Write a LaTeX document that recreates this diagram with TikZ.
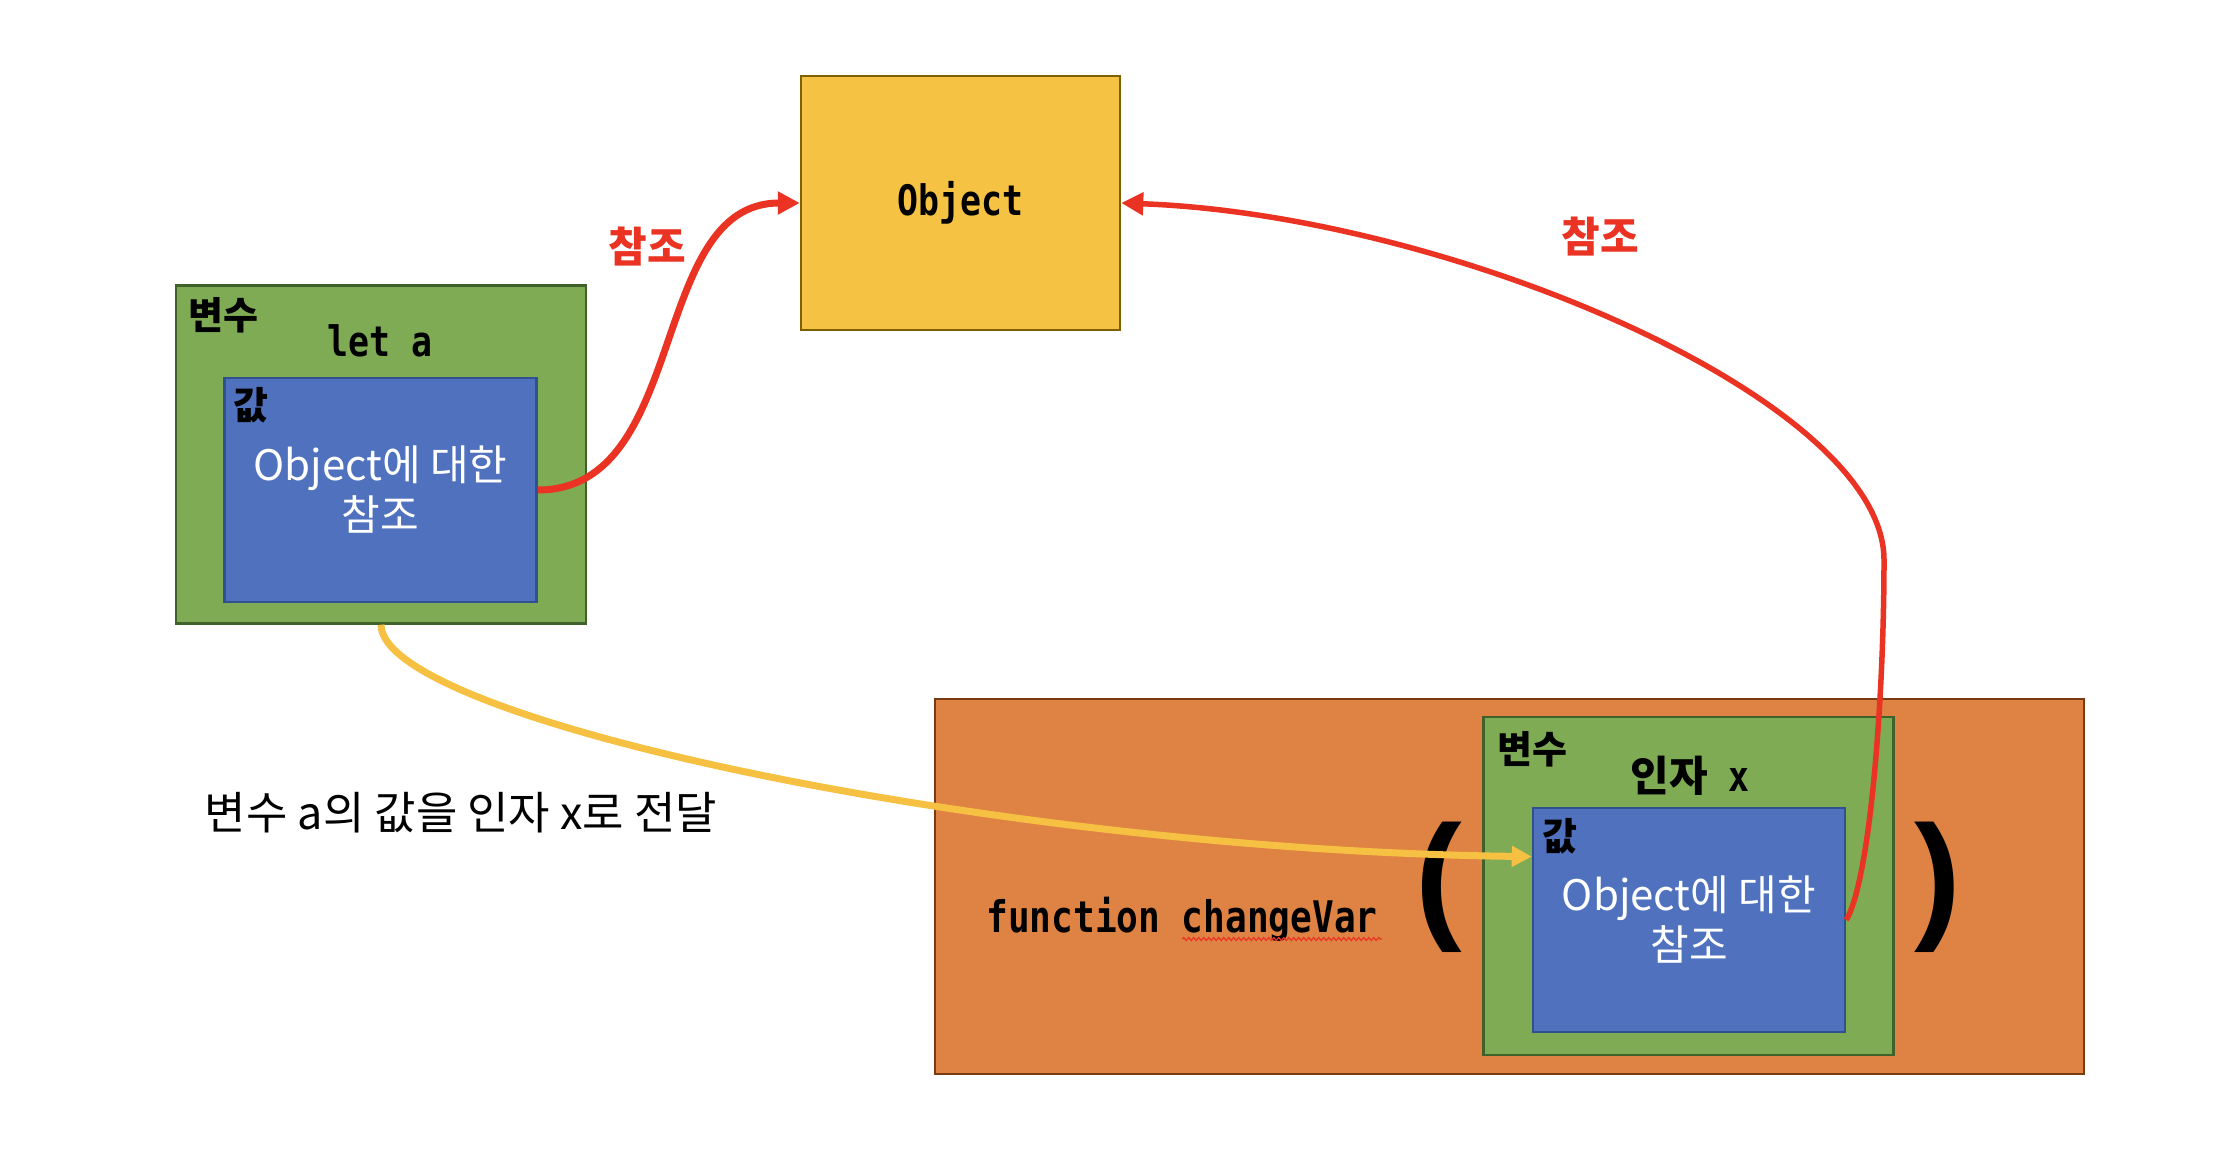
\documentclass[tikz,border=0pt]{standalone}
\usepackage{fontspec}
\setmainfont{Noto Sans CJK KR}
\newfontfamily\codefont[FakeStretch=0.83]{DejaVu Sans Mono}
\newfontfamily\parenfont{Liberation Sans}
\usepackage{xcolor}
\usepackage{tikz}
\usetikzlibrary{arrows.meta}
\usetikzlibrary{calc}
\usetikzlibrary{decorations.pathmorphing}
\definecolor{vargreen}{HTML}{7FAB55}
\definecolor{vargreenline}{HTML}{41612B}
\definecolor{valblue}{HTML}{4F71BE}
\definecolor{valblueline}{HTML}{2F528F}
\definecolor{objyellow}{HTML}{F5C243}
\definecolor{objyellowline}{HTML}{7F6000}
\definecolor{fnorange}{HTML}{DF8344}
\definecolor{fnorangeline}{HTML}{7A3B12}
\definecolor{refred}{HTML}{EA3323}
\definecolor{passyellow}{HTML}{F6C142}
\tikzset{plainbox/.style={rectangle, draw, line width=2.5pt, inner sep=0pt},
         varbox/.style={plainbox, draw=vargreenline, fill=vargreen,
                        minimum width=410pt, minimum height=338pt},
         valbox/.style={plainbox, draw=valblueline, fill=valblue,
                        minimum width=312pt, minimum height=224pt},
         tagtext/.style={inner sep=0pt, font=\fontsize{38}{42}\selectfont\bfseries},
         codetext/.style={inner sep=0pt, font=\fontsize{42}{50}\selectfont\codefont\bfseries},
         argtext/.style={inner sep=0pt, font=\fontsize{42}{50}\selectfont\bfseries},
         valtext/.style={inner sep=0pt, align=center, text=white,
                         font=\fontsize{42}{50}\selectfont},
         reflabel/.style={inner sep=0pt, text=refred, font=\fontsize{42}{50}\selectfont\bfseries},
         parentext/.style={inner sep=0pt, font=\fontsize{140}{140}\selectfont\parenfont\bfseries},
         refarrow/.style={draw=refred, line width=6pt, -{Triangle[length=22pt,width=22pt]}},
         passarrow/.style={draw=passyellow, line width=7pt, -{Triangle[length=20pt,width=20pt]}}}
\begin{document}
\begin{tikzpicture}[x=1pt,y=-1pt]
\useasboundingbox (0,0) rectangle (2216,1172);
% function changeVar ( ... )
\node[plainbox, draw=fnorangeline, fill=fnorange, minimum width=1149pt, minimum height=375pt] (fn) at (1509.5,886.5) {};
\node[codetext, font=\fontsize{43.5}{50}\selectfont\codefont\bfseries, anchor=base] (fnname) at (1182,932) {function changeVar};
\draw[refred, line width=1.2pt, decorate, decoration={snake, amplitude=1.5pt, segment length=5pt}]
  ($(fnname.base west)+(196,7)$) -- ($(fnname.base east)+(4,7)$);
\node[parentext] (lparen) at (1439,887) {(};
\node[parentext] (rparen) at (1938,887) {)};
\node[varbox] (var2) at (1688.5,886) {};
\node[valbox] (val2) at (1689,920) {};
\node[tagtext, anchor=west] (var2tag) at (1497,749.5) {변수};
\node[argtext] (var2name) at (1690,776) {인자{\codefont\ x}};
\node[tagtext, anchor=west] (val2tag) at (1542,836.5) {값};
\node[valtext] (val2text) at (val2) {Object에 대한\\참조};
% let a
\node[varbox] (var1) at (381,454.5) {};
\node[valbox] (val1) at (380.5,490) {};
\node[tagtext, anchor=west] (var1tag) at (188,315.5) {변수};
\node[codetext] (var1name) at (380,341) {let a};
\node[tagtext, anchor=west] (val1tag) at (233,405) {값};
\node[valtext] (val1text) at (val1) {Object에 대한\\참조};
% Object
\node[plainbox, codetext, draw=objyellowline, fill=objyellow, minimum width=319pt, minimum height=254pt] (obj) at (960.5,203) {Object};
\node[inner sep=0pt, font=\fontsize{45}{52}\selectfont] (passtext) at (461,812.5) {변수 a의 값을 인자 x로 전달};
% arrows
\draw[refarrow, line width=7pt] (val1.east) to[out=0,in=180] (obj.west);
\coordinate (bend) at (1884,560);
\draw[refarrow, line width=5.5pt] (val2.east) .. controls (1870,880) and (1884,700) .. (bend)
  .. controls (1884,400) and (1450,215) .. (obj.east);
\draw[passarrow] (var1.south) .. controls (382,720) and (1000,850) .. ($(val2.north west)!0.22!(val2.south west)$);
\node[reflabel] (ref1) at (647,247) {참조};
\node[reflabel] (ref2) at (1600,237) {참조};
\end{tikzpicture}
\end{document}
